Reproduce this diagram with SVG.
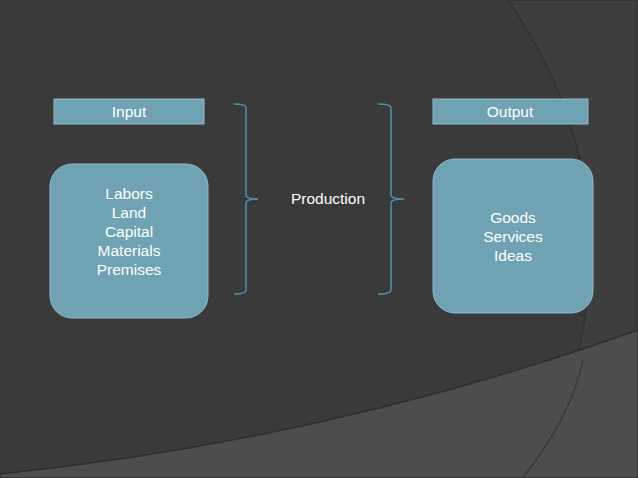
<svg xmlns="http://www.w3.org/2000/svg" width="638" height="478" viewBox="0 0 638 478">
<style>
.box{fill:#6fa3b4;stroke:#8fbccb;stroke-width:1}
.t{font-family:"Liberation Sans",Arial,sans-serif;font-size:15.5px;fill:#ffffff;text-anchor:middle}
.br{fill:none;stroke:#4a95ad;stroke-width:1.5}
</style>
<rect width="638" height="478" fill="#3a3a3a"/>
<path d="M508,0 Q590,120 590,250 Q590,380 520,478 L638,478 L638,0 Z" fill="#3e3e3e" stroke="#323232" stroke-width="1.5"/>
<path d="M0,474 Q330,440 638,330 L638,478 L0,478 Z" fill="#4d4d4d" stroke="#2e2e2e" stroke-width="1.5"/>
<path d="M583,360 Q570,420 522,478" fill="none" stroke="#3a3a3a" stroke-width="1.5"/>
<g id="input"><rect class="box" x="54" y="99" width="150" height="25"/><text class="t" x="129" y="117">Input</text></g>
<g id="output"><rect class="box" x="433" y="99" width="155" height="25"/><text class="t" x="510" y="117">Output</text></g>
<g id="inputs"><rect class="box" x="50" y="164" width="158" height="154" rx="22"/>
<text class="t" x="129" y="199">Labors</text><text class="t" x="129" y="218">Land</text><text class="t" x="129" y="237">Capital</text><text class="t" x="129" y="256">Materials</text><text class="t" x="129" y="275">Premises</text></g>
<g id="outputs"><rect class="box" x="433" y="159" width="160" height="154" rx="22"/>
<text class="t" x="513" y="223">Goods</text><text class="t" x="513" y="242">Services</text><text class="t" x="513" y="261">Ideas</text></g>
<g id="production"><text class="t" x="328" y="204">Production</text></g>
<g id="connectors">
<path class="br" d="M234,104 Q246,104 246,108 L246,195 Q246,199 258,199 Q246,199 246,203 L246,290 Q246,294 234,294"/>
<path class="br" d="M378,104 Q391,104 391,108 L391,195 Q391,199 404,199 Q391,199 391,203 L391,290 Q391,294 378,294"/>
</g>
</svg>
